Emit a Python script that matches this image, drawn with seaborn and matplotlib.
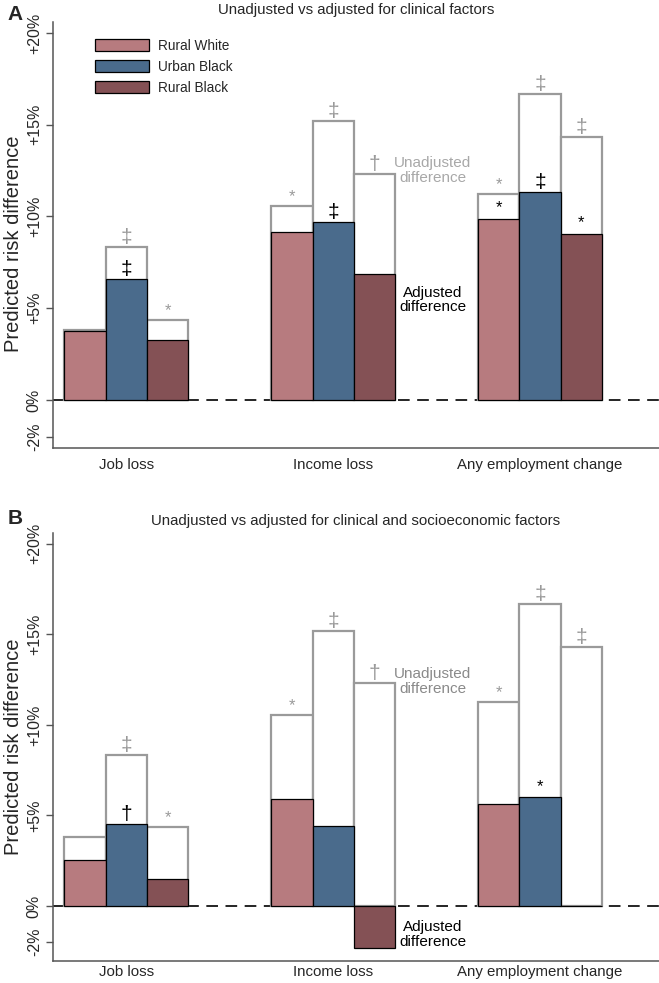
"""Predicted risk difference: unadjusted vs adjusted, two panels."""

import matplotlib

matplotlib.use("Agg")
import matplotlib.pyplot as plt
import numpy as np
import pandas as pd
import seaborn as sns

# Data (percentage points)
outcomes = ["Job loss", "Income loss", "Any employment change"]
groups = ["Rural White", "Urban Black", "Rural Black"]

# Panel A: adjusted for clinical factors
a_unadj = {"Rural White": [3.8, 10.55, 11.25],
           "Urban Black": [8.35, 15.2, 16.7],
           "Rural Black": [4.35, 12.3, 14.35]}
a_adj = {"Rural White": [3.75, 9.15, 9.85],
         "Urban Black": [6.6, 9.7, 11.35],
         "Rural Black": [3.25, 6.85, 9.05]}
a_unadj_marks = {"Rural White": ["", "*", "*"],
                 "Urban Black": ["‡", "‡", "‡"],
                 "Rural Black": ["*", "†", "‡"]}
a_adj_marks = {"Rural White": ["", "", "*"],
               "Urban Black": ["‡", "‡", "‡"],
               "Rural Black": ["", "", "*"]}

# Panel B: adjusted for clinical and socioeconomic factors
b_unadj = {"Rural White": [3.8, 10.55, 11.25],
           "Urban Black": [8.35, 15.2, 16.7],
           "Rural Black": [4.35, 12.3, 14.3]}
b_adj = {"Rural White": [2.55, 5.9, 5.65],
         "Urban Black": [4.5, 4.4, 6.0],
         "Rural Black": [1.5, -2.35, 0.0]}
b_unadj_marks = {"Rural White": ["", "*", "*"],
                 "Urban Black": ["‡", "‡", "‡"],
                 "Rural Black": ["*", "†", "‡"]}
b_adj_marks = {"Rural White": ["", "", ""],
               "Urban Black": ["†", "", "*"],
               "Rural Black": ["", "", ""]}

y_ticks = [20, 15, 10, 5, 0, -2]
y_ticklabels = ["+20%", "+15%", "+10%", "+5%", "0%", "-2%"]

palette = {"Rural White": "#b77b7f", "Urban Black": "#4a6b8c", "Rural Black": "#845155"}
GRAY = "#9a9a9a"
BAR_W = 0.2

sns.set_theme(style="white")
plt.rcParams["font.family"] = ["Liberation Sans", "DejaVu Sans"]


def to_long(values):
    rows = []
    for g in groups:
        for o, v in zip(outcomes, values[g]):
            rows.append({"outcome": o, "group": g, "value": v})
    return pd.DataFrame(rows)


def draw_panel(ax, unadj, adj, unadj_marks, adj_marks, ylim, title, label_y,
               xpad=7, legend=False):
    ax.axhline(0, color="black", lw=1.2, ls=(0, (7, 4.5)), zorder=0.5)

    sns.barplot(data=to_long(unadj), x="outcome", y="value", hue="group",
                order=outcomes, hue_order=groups, width=0.6, saturation=1,
                palette={g: "white" for g in groups}, edgecolor=GRAY, linewidth=1.6,
                errorbar=None, legend=False, ax=ax)
    sns.barplot(data=to_long(adj), x="outcome", y="value", hue="group",
                order=outcomes, hue_order=groups, width=0.6, saturation=1,
                palette=palette, edgecolor="black", linewidth=0.9,
                errorbar=None, legend=False, ax=ax)

    # significance markers
    for j, g in enumerate(groups):
        for i in range(len(outcomes)):
            x = i + (j - 1) * BAR_W
            m = unadj_marks[g][i]
            if m:
                off = 0.1 if m == "*" else 0.0
                ax.text(x, unadj[g][i] + off, m, color=GRAY, ha="center", va="bottom",
                        fontsize=15 if m != "*" else 12)
            m = adj_marks[g][i]
            if m:
                off = 0.2 if m == "*" else 0.0
                ax.text(x, adj[g][i] + off, m, color="black", ha="center", va="bottom",
                        fontsize=15 if m != "*" else 12)

    ax.set_xlim(-0.355, 2.575)
    ax.set_ylim(*ylim)
    ax.set_yticks(y_ticks)
    ax.set_yticklabels(y_ticklabels, rotation=90, va="center")
    ax.tick_params(axis="y", direction="out", length=5, width=1, color="#555555",
                   labelsize=11.5, pad=3, left=True)
    ax.tick_params(axis="x", length=0, labelsize=10.8, pad=xpad)
    ax.set_xlabel("")
    ax.set_ylabel("Predicted risk difference", fontsize=14.5)
    ax.yaxis.set_label_coords(-0.049, label_y)
    sns.despine(ax=ax)
    for side in ("left", "bottom"):
        ax.spines[side].set_color("#555555")
        ax.spines[side].set_linewidth(1.1)
    ax.set_title(title, fontsize=10.8, pad=6)

    if legend:
        handles = ax.containers[-3:]
        ax.legend(handles, groups, loc="upper left", bbox_to_anchor=(0.069, 0.96),
                  frameon=False, fontsize=9.8, handlelength=4.0, handleheight=1.0,
                  handletextpad=0.65, labelspacing=0.5, borderpad=0, borderaxespad=0)


fig = plt.figure(figsize=(6.59, 9.83), dpi=100)
ax_a = fig.add_axes([0.0804, 0.5443, 0.9196, 0.4333])
ax_b = fig.add_axes([0.0804, 0.0224, 0.9196, 0.4354])

draw_panel(ax_a, a_unadj, a_adj, a_unadj_marks, a_adj_marks, (-2.62, 20.6),
           "Unadjusted vs adjusted for clinical factors", 0.48, legend=True)
draw_panel(ax_b, b_unadj, b_adj, b_unadj_marks, b_adj_marks, (-3.04, 20.6),
           "Unadjusted vs adjusted for clinical and socioeconomic factors", 0.5, xpad=3)

ax_a.text(1.48, 12.5, "Unadjusted\ndifference", color="#a8a8a8", ha="center", va="center",
          fontsize=11, linespacing=1.05)
ax_a.text(1.48, 5.45, "Adjusted\ndifference", color="black", ha="center", va="center",
          fontsize=11, linespacing=1.05)
ax_b.text(1.48, 12.4, "Unadjusted\ndifference", color="#8a8a8a", ha="center", va="center",
          fontsize=11, linespacing=1.05)
ax_b.text(1.48, -1.57, "Adjusted\ndifference", color="black", ha="center", va="center",
          fontsize=11, linespacing=1.05)

fig.text(0.012, 0.985, "A", fontsize=15, fontweight="bold", va="center")
fig.text(0.012, 0.473, "B", fontsize=15, fontweight="bold", va="center")

fig.savefig("out.png", dpi=100)
